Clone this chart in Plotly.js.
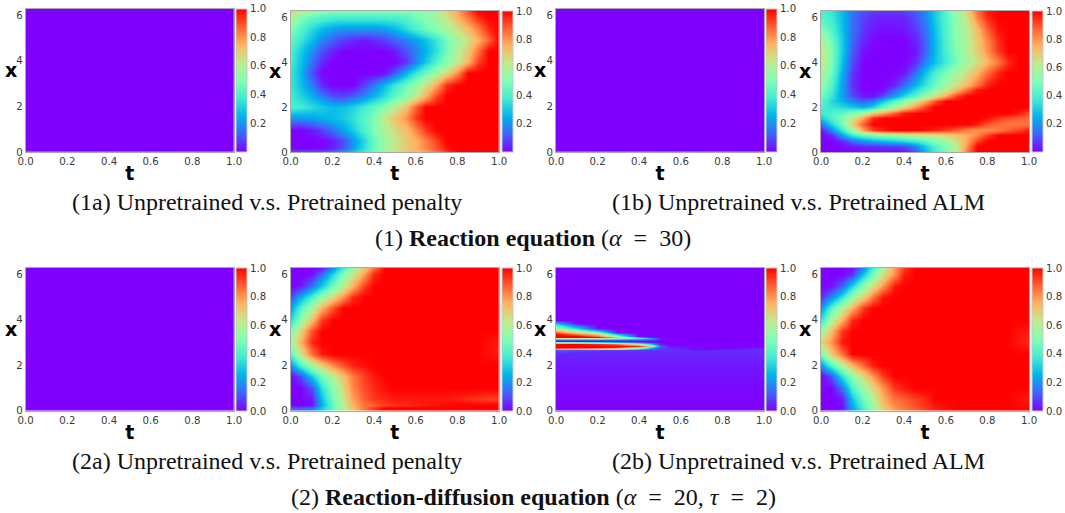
<!DOCTYPE html>
<html><head><meta charset="utf-8">
<script src="https://cdn.plot.ly/plotly-3.0.1.min.js"></script>
<style>html,body{margin:0;padding:0;background:#fff}#c{width:1065px;height:513px}</style>
</head><body><div id="c"></div>
<script>
// values in percent of the colour range
const tGrid=[0,.05,.1,.15,.2,.25,.3,.35,.4,.45,.5,.55,.6,.65,.7,.75,.8,.85,.9,.95,1];
const xRows1a=[0,.2,.5,1,1.5,2,2.5,3,3.5,4,4.5,5,5.5,6,6.28];
const penalty1=[
[12,12,12,13,17,22,30,38,47,55,62,68,73,78,84,92,100,100,100,100,100],
[0,0,0,1,4,10,22,34,46,56,64,70,75,82,90,98,100,100,100,100,100],
[0,0,0,0,3,10,20,32,45,55,63,70,75,83,92,100,100,100,100,100,100],
[0,0,3,8,15,22,30,40,50,60,67,72,82,93,100,100,100,100,100,100,100],
[20,20,22,25,27,30,35,42,50,63,72,80,93,100,100,100,100,100,100,100,100],
[40,38,34,30,27,28,32,38,44,52,62,72,88,100,100,100,100,100,100,100,100],
[38,32,25,17,10,8,12,18,26,34,43,52,62,75,92,100,100,100,100,100,100],
[36,28,17,5,0,0,0,8,16,27,37,46,55,65,78,95,100,100,100,100,100],
[36,26,10,0,0,0,0,0,0,2,12,25,37,47,57,67,82,100,100,100,100],
[38,28,15,5,0,0,0,0,0,0,0,6,18,30,42,53,62,75,92,100,100],
[40,30,20,10,4,0,0,0,0,0,3,10,17,25,35,48,60,70,85,100,100],
[45,36,27,18,12,8,5,3,5,8,13,17,22,28,37,48,57,65,75,88,100],
[50,42,33,27,22,20,20,20,20,22,26,33,40,46,52,58,65,73,83,95,100],
[62,50,45,42,40,40,40,40,40,40,40,42,48,52,57,65,75,85,95,100,100],
[70,62,55,52,50,50,50,50,50,50,50,50,51,52,58,68,78,90,100,100,100]];
const xRows1b=[0,.25,.5,.75,1,1.25,1.5,1.75,2,2.25,2.5,2.75,3,3.5,4,4.5,5,5.5,6,6.28];
const alm1=[
[0,0,0,0,0,0,0,0,1,10,25,38,48,62,85,100,100,100,100,100,100],
[0,0,1,3,5,6,7,8,10,18,30,42,50,62,80,100,100,100,100,100,100],
[0,0,4,14,20,24,27,30,33,38,44,50,56,65,78,92,100,100,100,100,100],
[0,4,22,37,44,50,52,55,58,60,62,64,68,72,76,82,92,100,100,100,100],
[2,17,37,55,78,92,97,100,100,100,98,96,93,88,83,80,80,84,88,92,97],
[15,32,47,70,88,100,100,100,100,100,100,100,100,100,100,97,90,86,84,84,85],
[30,40,50,62,78,95,100,100,100,100,100,100,100,100,100,100,98,93,90,88,86],
[37,40,45,50,58,70,78,88,97,100,100,100,100,100,100,100,100,100,100,97,90],
[40,36,33,30,25,32,46,56,68,80,92,100,100,100,100,100,100,100,100,100,100],
[44,33,26,17,12,17,30,42,52,63,76,90,100,100,100,100,100,100,100,100,100],
[48,37,22,10,3,2,10,22,33,43,54,65,78,92,100,100,100,100,100,100,100],
[52,40,22,8,0,0,2,12,22,33,43,53,63,74,87,98,100,100,100,100,100],
[55,42,22,6,0,0,0,4,14,25,36,46,56,65,74,85,96,100,100,100,100],
[60,47,25,7,0,0,0,0,3,14,28,40,50,58,66,75,86,96,100,100,100],
[65,50,28,10,0,0,0,0,0,5,17,28,38,48,57,65,74,84,95,100,100],
[65,50,30,12,2,0,0,0,0,2,12,27,40,50,60,70,80,93,100,100,100],
[60,47,30,14,5,1,0,0,0,4,13,27,41,52,60,70,82,95,100,100,100],
[50,42,28,15,7,3,2,2,3,7,15,28,42,52,62,73,88,98,100,100,100],
[42,38,27,15,8,5,4,4,5,10,17,30,42,53,65,83,95,100,100,100,100],
[40,36,27,16,10,8,7,7,8,12,18,30,43,55,68,85,97,100,100,100,100]];
const xRows2a=[0,.1,.25,.5,1,1.5,2,2.5,3,3.5,4,4.5,5,5.5,6,6.28];
const penalty2=[
[15,12,15,30,45,60,72,85,93,100,100,100,100,100,100,100,100,100,100,100,100],
[12,12,15,30,45,60,72,85,93,100,100,100,100,100,100,100,100,100,100,100,100],
[0,0,2,25,45,60,75,84,88,92,94,95,96,97,98,99,100,100,100,100,100],
[0,0,3,28,48,63,78,88,93,95,97,97,97,97,97,97,96,95,93,92,92],
[0,0,10,35,52,67,82,90,95,98,100,100,100,100,100,100,100,100,100,100,100],
[0,10,30,48,60,72,84,92,97,100,100,100,100,100,100,100,100,100,100,100,100],
[20,42,58,70,82,90,96,98,100,100,100,100,100,100,100,100,100,100,100,100,100],
[42,65,85,97,100,100,100,100,100,100,100,100,100,100,100,100,100,100,100,98,97],
[58,75,95,100,100,100,100,100,100,100,100,100,100,100,100,100,100,100,100,98,97],
[50,68,90,100,100,100,100,100,100,100,100,100,100,100,100,100,100,100,100,100,100],
[33,55,72,93,100,100,100,100,100,100,100,100,100,100,100,100,100,100,100,100,100],
[22,42,58,75,90,100,100,100,100,100,100,100,100,100,100,100,100,100,100,100,100],
[10,25,40,55,67,80,95,100,100,100,100,100,100,100,100,100,100,100,100,100,100],
[0,3,15,30,47,60,75,92,100,100,100,100,100,100,100,100,100,100,100,100,100],
[0,0,2,14,32,50,63,78,95,100,100,100,100,100,100,100,100,100,100,100,100],
[0,0,0,3,20,38,55,70,85,100,100,100,100,100,100,100,100,100,100,100,100]];
const xRows2b=[0,.5,1,1.5,2,2.5,3,3.5,4,4.5,5,5.5,6,6.28];
const alm2=[
[0,0,2,20,38,53,68,78,83,88,92,95,98,100,100,100,100,100,100,100,100],
[0,0,3,28,47,60,75,85,88,92,95,100,100,100,100,100,100,100,100,98,97],
[0,0,15,40,55,68,80,93,97,100,100,100,100,100,100,100,100,100,100,100,100],
[0,10,35,53,67,80,93,100,100,100,100,100,100,100,100,100,100,100,100,100,100],
[20,42,60,75,87,97,100,100,100,100,100,100,100,100,100,100,100,100,100,100,100],
[48,70,85,100,100,100,100,100,100,100,100,100,100,100,100,100,100,100,100,100,100],
[68,80,97,100,100,100,100,100,100,100,100,100,100,100,100,100,100,100,100,97,95],
[55,72,93,100,100,100,100,100,100,100,100,100,100,100,100,100,100,100,100,98,97],
[35,58,75,95,100,100,100,100,100,100,100,100,100,100,100,100,100,100,100,100,100],
[20,42,60,75,93,100,100,100,100,100,100,100,100,100,100,100,100,100,100,100,100],
[5,18,35,55,68,85,98,100,100,100,100,100,100,100,100,100,100,100,100,100,100],
[0,2,12,32,52,66,80,97,100,100,100,100,100,100,100,100,100,100,100,100,100],
[0,0,0,5,28,48,65,80,97,100,100,100,100,100,100,100,100,100,100,100,100],
[0,0,0,2,18,40,60,78,93,100,100,100,100,100,100,100,100,100,100,100,100]];
const tStreak=[0,.1,.2,.3,.4,.45,.5,.55,.7,.85,1];
const xRowsStreak=[0,1,2,2.55,2.66,2.72,2.78,2.86,2.94,3,3.06,3.12,3.18,3.24,3.3,3.36,3.45,3.55,3.65,3.75,3.85,3.98,4.05,6.28];
const unpre2b=[
[0,0,0,0,0,0,0,0,0,0,0],
[1,1,1,1,1,1,1,1,1,1,1],
[3,3,3,3,3,3,3,3,3,3,3],
[5,5,5,5,5,5,5,5,5,5,5],
[12,10,8,7,7,6,6,6,4,6,6],
[80,75,65,50,30,15,7,6,0,2,6],
[100,100,100,95,70,40,10,5,0,0,2],
[100,100,100,100,95,70,15,2,0,0,0],
[100,100,95,85,60,35,3,0,0,0,0],
[50,45,35,25,10,3,0,0,0,0,0],
[0,0,0,0,0,0,0,0,0,0,0],
[10,10,10,10,10,8,2,0,0,0,0],
[60,60,60,55,40,25,5,0,0,0,0],
[100,100,98,72,25,3,0,0,0,0,0],
[100,100,85,50,0,0,0,0,0,0,0],
[100,85,70,25,0,0,0,0,0,0,0],
[85,65,45,0,0,0,0,0,0,0,0],
[70,48,20,0,0,0,0,0,0,0,0],
[55,30,0,0,0,0,0,0,0,0,0],
[40,12,0,0,0,0,0,0,0,0,0],
[25,0,0,0,0,0,0,0,0,0,0],
[0,0,0,0,0,0,0,0,0,0,0],
[0,0,0,0,0,0,0,0,0,0,0],
[0,0,0,0,0,0,0,0,0,0,0]];
const tFlat=[0,1];
const xFlat=[0,6.28];
const flatZero=[[0,0],[0,0]];
const tickX=[0,.2,.4,.6,.8,1];
const tickY=[0,2,4,6];
const rainbow=[[0,'#8000ff'],[.125,'#4062fa'],[.25,'#00b4ec'],[.375,'#40ecd4'],[.5,'#80ffb4'],[.625,'#c0ec8e'],[.75,'#ffb462'],[.875,'#ff6232'],[1,'#ff0000']];

const captions=[
 ['(1a) Unpretrained v.s. Pretrained penalty',267,202],
 ['(1b) Unpretrained v.s. Pretrained ALM',798,202],
 ['(1) <b>Reaction equation</b> (<i>α</i>\u2002=\u200230)',533,238],
 ['(2a) Unpretrained v.s. Pretrained penalty',267,461],
 ['(2b) Unpretrained v.s. Pretrained ALM',798,461],
 ['(2) <b>Reaction-diffusion equation</b> (<i>α</i>\u2002=\u200220, <i>τ</i>\u2002=\u20022)',533,497]];

const W=1065,H=513;
const P=z=>z.map(r=>r.map(v=>v/100));
// [left,right,top,bottom,cbLeft,t,x,z,xLabelPx,yLabelPy,hasZeroTick]
const panels=[
 [25.7,234,8.7,152,236.3,tFlat,xFlat,flatZero,10.5,70,0],
 [290.7,499,11,152,501.7,tGrid,xRows1a,P(penalty1),275,71,0],
 [556,764,8.7,152,766,tFlat,xFlat,flatZero,540,70,0],
 [821,1029,11,152,1031.7,tGrid,xRows1b,P(alm1),805,71,0],
 [25.7,234,268,410.5,236.3,tFlat,xFlat,flatZero,10.5,329,1],
 [290.7,499,268,410.5,501.7,tGrid,xRows2a,P(penalty2),275,329,1],
 [556,764,268,410.5,766,tStreak,xRowsStreak,P(unpre2b),540,329,1],
 [821,1029,268,410.5,1031.7,tGrid,xRows2b,P(alm2),805,329,1]];
const tickFont={family:'DejaVu Sans',size:10.2,color:'#3a3a3a'};
const traces=[],annotations=[];
const layout={width:W,height:H,margin:{l:0,r:0,t:0,b:0},paper_bgcolor:'#fff',plot_bgcolor:'#fff',showlegend:false};
panels.forEach((p,i)=>{
 const [l,r,t,b,cb,xs,ys,z,xlx,xly,zero]=p;
 const n=i+1,sx=n===1?'':n;
 traces.push({type:'heatmap',x:xs,y:ys,z:z,xaxis:'x'+sx,yaxis:'y'+sx,zmin:0,zmax:1,zsmooth:'best',colorscale:rainbow,hoverinfo:'skip',
  colorbar:{x:cb/W,xanchor:'left',y:1-t/H,yanchor:'top',lenmode:'pixels',len:b-t,thicknessmode:'pixels',thickness:10.5,xpad:0,ypad:0,
   outlinecolor:'#c8c8c8',outlinewidth:1,borderwidth:0,ticks:'',ticklen:0,tickfont:tickFont,
   tickmode:'array',tickvals:zero?[0,.2,.4,.6,.8,1]:[.2,.4,.6,.8,1],ticktext:zero?['0.0','0.2','0.4','0.6','0.8','1.0']:['0.2','0.4','0.6','0.8','1.0']}});
 layout['xaxis'+sx]={domain:[l/W,r/W],range:[0,1],anchor:'y'+sx,tickmode:'array',tickvals:tickX,ticktext:tickX.map(v=>v.toFixed(1)),tickfont:tickFont,ticks:'',showgrid:false,zeroline:false,showline:true,mirror:true,linecolor:'#aaaaaa',linewidth:1,
  title:{text:'<b>t</b>',font:{family:'DejaVu Sans',size:19,color:'#000'},standoff:0}};
 layout['yaxis'+sx]={domain:[1-b/H,1-t/H],range:[0,6.28],anchor:'x'+sx,tickmode:'array',tickvals:tickY,ticktext:tickY.map(String),tickfont:tickFont,ticks:'',showgrid:false,zeroline:false,showline:true,mirror:true,linecolor:'#aaaaaa',linewidth:1};
 annotations.push({xref:'paper',yref:'paper',x:xlx/W,y:1-xly/H,xanchor:'center',yanchor:'middle',showarrow:false,text:'<b>x</b>',font:{family:'DejaVu Sans',size:19,color:'#000'}});
});
captions.forEach(c=>annotations.push({xref:'paper',yref:'paper',x:c[1]/W,y:1-c[2]/H,xanchor:'center',yanchor:'middle',showarrow:false,text:c[0],font:{family:'Liberation Serif',size:24,color:'#111'}}));
layout.annotations=annotations;
Plotly.newPlot('c',traces,layout,{staticPlot:true,displayModeBar:false});
</script></body></html>
